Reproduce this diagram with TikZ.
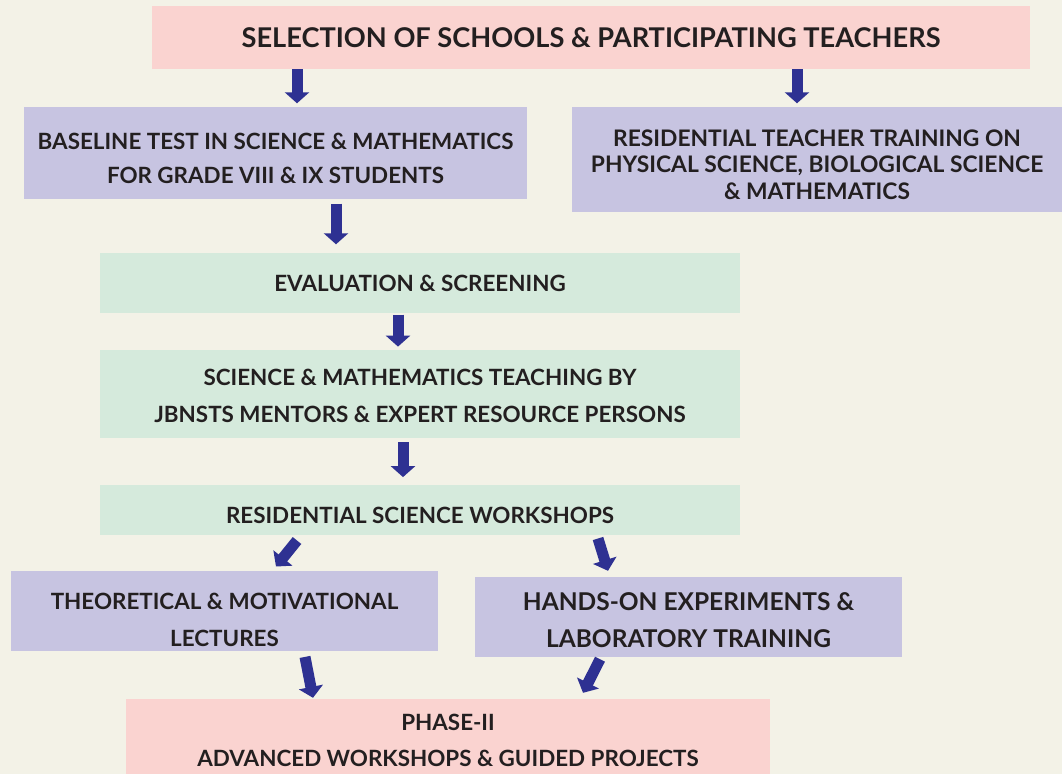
\documentclass[tikz,border=0pt]{standalone}
\usepackage{fontspec}
\setmainfont{Lato}
\usetikzlibrary{arrows.meta}

\definecolor{bgcream}{HTML}{F3F2E7}
\definecolor{boxpink}{HTML}{FAD3D0}
\definecolor{boxlilac}{HTML}{C7C4E1}
\definecolor{boxmint}{HTML}{D5EADC}
\definecolor{arrowblue}{HTML}{2E3192}
\definecolor{textdark}{HTML}{231F20}

\tikzset{
  flowbox/.style={rectangle, inner sep=0pt, align=center, text=textdark,
    font=\bfseries\fontsize{22.4}{36}\selectfont},
  pinkbox/.style={flowbox, fill=boxpink},
  lilacbox/.style={flowbox, fill=boxlilac},
  mintbox/.style={flowbox, fill=boxmint},
  % puts the last baseline half this amount below the box centre
  textat/.style={text height=#1, text depth=0pt},
  flowarrow/.style={arrowblue, line width=11pt,
    -{Triangle[width=24pt,length=11pt]}}
}

\begin{document}
\begin{tikzpicture}[x=1pt,y=-1pt]

% Background
\fill[bgcream] (0,0) rectangle (1062,774);
\useasboundingbox (0,0) rectangle (1062,774);

% Boxes
\node[pinkbox, minimum width=878pt, minimum height=63pt, textat=19.5pt,
  font=\bfseries\fontsize{27.2}{30}\selectfont] (sel) at (591,37.5)
  {SELECTION OF SCHOOLS \& PARTICIPATING TEACHERS};
\node[lilacbox, minimum width=503pt, minimum height=92pt, textat=62.4pt,
  font=\bfseries\fontsize{22.4}{34.4}\selectfont] (base) at (275.5,152.5)
  {BASELINE TEST IN SCIENCE \& MATHEMATICS\\FOR GRADE VIII \& IX STUDENTS};
\node[lilacbox, minimum width=490pt, minimum height=105pt, textat=80.4pt,
  font=\bfseries\fontsize{22.8}{26.5}\selectfont] (resid) at (817,159)
  {RESIDENTIAL TEACHER TRAINING ON\\PHYSICAL SCIENCE, BIOLOGICAL SCIENCE\\\& MATHEMATICS};
\node[mintbox, minimum width=640pt, minimum height=60pt, textat=18.4pt] (eval) at (420,282.5)
  {EVALUATION \& SCREENING};
\node[mintbox, minimum width=640pt, minimum height=88pt, textat=56.4pt,
  font=\bfseries\fontsize{22.4}{37}\selectfont] (teach) at (420,393.8)
  {SCIENCE \& MATHEMATICS TEACHING BY\\JBNSTS MENTORS \& EXPERT RESOURCE PERSONS};
\node[mintbox, minimum width=640pt, minimum height=50pt, textat=26.8pt] (shop) at (420,510.3)
  {RESIDENTIAL SCIENCE WORKSHOPS};
\node[lilacbox, minimum width=427pt, minimum height=80pt, textat=71.6pt,
  font=\bfseries\fontsize{22.4}{37.5}\selectfont] (theo) at (224.5,610.7)
  {THEORETICAL \& MOTIVATIONAL\\LECTURES};
\node[lilacbox, minimum width=427pt, minimum height=80pt, textat=60.2pt,
  font=\bfseries\fontsize{24.5}{37}\selectfont] (hands) at (688.5,617)
  {HANDS-ON EXPERIMENTS \&\\LABORATORY TRAINING};
\node[pinkbox, minimum width=644pt, minimum height=75pt, textat=60.6pt,
  font=\bfseries\fontsize{22.4}{36.8}\selectfont] (phase) at (448,736.5)
  {PHASE-II\\ADVANCED WORKSHOPS \& GUIDED PROJECTS};

% Arrows
\draw[flowarrow] ([shift={(-294,0)}]sel.south) -- ([shift={(21.5,-3)}]base.north);
\draw[flowarrow] ([shift={(206,0)}]sel.south) -- ([shift={(-20,-3)}]resid.north);
\draw[flowarrow] ([shift={(60.5,5)}]base.south) -- ([shift={(-84,-8)}]eval.north);
\draw[flowarrow] ([shift={(-22,2)}]eval.south) -- ([shift={(-22,-3)}]teach.north);
\draw[flowarrow] ([shift={(-17,4)}]teach.south) -- ([shift={(-17,-8)}]shop.north);
\draw[flowarrow] ([shift={(-123,5)}]shop.south) -- ([shift={(51.5,-4)}]theo.north);
\draw[flowarrow] ([shift={(178,3)}]shop.south) -- ([shift={(-80.5,-6)}]hands.north);
\draw[flowarrow] ([shift={(80.5,6)}]theo.south) -- ([shift={(-135,-1)}]phase.north);
\draw[flowarrow] ([shift={(-88.5,2)}]hands.south) -- ([shift={(135,-6)}]phase.north);

\end{tikzpicture}
\end{document}
